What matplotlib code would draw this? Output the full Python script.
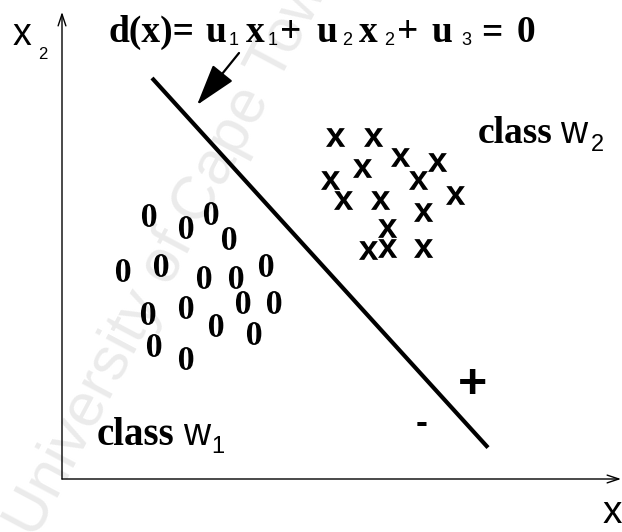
import numpy as np
import matplotlib
matplotlib.use("Agg")
import matplotlib.pyplot as plt
from matplotlib.textpath import TextPath
from matplotlib.font_manager import FontProperties
from matplotlib.path import Path
from matplotlib.patches import FancyArrowPatch, ArrowStyle

# ---- data (feature space x1, x2) ----
class1_x1 = [8.6, 12.3, 14.8, 16.6, 6.0, 9.8, 14.1, 17.3, 20.3, 18.0, 21.1, 8.5, 12.3, 15.3, 19.1, 9.1, 12.3]
class1_x2 = [26.4, 25.2, 26.6, 24.1, 20.9, 21.4, 20.2, 20.2, 21.4, 17.7, 17.7, 16.6, 17.2, 15.4, 14.6, 13.4, 12.1]
class2_x1 = [27.3, 31.1, 33.8, 37.5, 30.0, 26.8, 35.6, 28.1, 31.8, 39.3, 36.1, 32.5, 30.6, 32.5, 36.1]
class2_x2 = [34.2, 34.2, 32.2, 31.7, 31.1, 29.9, 29.9, 27.9, 27.9, 28.4, 26.7, 25.1, 22.9, 23.1, 23.1]
# decision boundary d(x) = u1*x1 + u2*x2 + u3 = 0
u1, u2, u3 = 1.1, 1.0, -50.0
boundary_x1 = [9.0, 42.6]

SERIF_B = dict(family='Liberation Serif', weight='bold')
SANS = dict(family='Liberation Sans')

fig = plt.figure(figsize=(6.22, 5.32), dpi=100)
ax = fig.add_axes([0, 0, 1, 1])
ax.set_xlim(-6.2, 56.0)
ax.set_ylim(-5.3, 47.9)
ax.axis('off')

# watermark
ax.text(-2.6, -6.1, "University of Cape Town", rotation=62, rotation_mode='anchor',
        ha='left', va='baseline', fontsize=44, color='#ebebeb',
        family='Liberation Sans', zorder=0, clip_on=True)

def glyph_marker(ch, fp):
    tp = TextPath((0, 0), ch, prop=fp, size=1)
    v = tp.vertices.copy()
    lo, hi = v.min(0), v.max(0)
    v = v - (lo + hi) / 2
    return Path(v, tp.codes)

m_zero = glyph_marker("0", FontProperties(family='Liberation Serif', weight='bold'))
m_x = glyph_marker("x", FontProperties(family='Liberation Sans', weight='bold'))

ax.scatter(class1_x1, class1_x2, marker=m_zero, s=16.5**2, c='black', linewidths=0, zorder=3)
ax.scatter(class2_x1, class2_x2, marker=m_x, s=14.0**2, c='black', linewidths=0, zorder=3)

# decision line
bx = np.array(boundary_x1)
by = -(u1 * bx + u3) / u2
ax.plot(bx, by, color='black', lw=3.0, solid_capstyle='butt', zorder=3)

# axes with arrows
ax.annotate("", xy=(0, 46.7), xytext=(0, 0),
            arrowprops=dict(arrowstyle='->,head_length=0.6,head_width=0.2', lw=1.0,
                            color='black', shrinkA=0, shrinkB=0, mutation_scale=14))
ax.annotate("", xy=(55.9, 0), xytext=(0, 0),
            arrowprops=dict(arrowstyle='->,head_length=0.6,head_width=0.2', lw=1.0,
                            color='black', shrinkA=0, shrinkB=0, mutation_scale=14))

# axis labels
ax.text(-4.9, 43.4, "x", fontsize=27, ha='left', va='baseline', **SANS)
ax.text(-2.4, 42.0, "2", fontsize=12, ha='left', va='baseline', **SANS)
ax.text(54.1, -4.4, "x", fontsize=28, ha='left', va='baseline', **SANS)


def chain(x0, y0, pieces):
    """Place text pieces one after another; pieces: (text, style, size, dy, gap_pt)."""
    prev = None
    for s, style, size, dy, gap in pieces:
        if prev is None:
            t = ax.text(x0, y0 + dy, s, fontsize=size, ha='left', va='baseline', **style)
        else:
            t = ax.annotate(s, xy=(1, y0 + dy), xycoords=(prev, 'data'),
                            xytext=(gap, 0), textcoords='offset points',
                            fontsize=size, ha='left', va='baseline', **style)
        prev = t


M, S = 27, 13
sub = -0.35
chain(4.6, 43.7, [
    ("d(x)=", SERIF_B, M, 0, 0),
    ("u", SERIF_B, M, 0, 8),
    ("1", SANS, S, sub, 2),
    ("x", SERIF_B, M, 0, 5),
    ("1", SANS, S, sub, 2),
    ("+", SERIF_B, M, 0, 2),
    ("u", SERIF_B, M, 0, 11),
    ("2", SANS, S, sub, 3),
    ("x", SERIF_B, M, 0, 5),
    ("2", SANS, S, sub, 5),
    ("+", SERIF_B, M, 0, 2),
    ("u", SERIF_B, M, 0, 9),
    ("3", SANS, S, sub, 7),
    ("=", SERIF_B, M, 0, 7),
    ("0", SERIF_B, M, 0, 10),
])

arr = FancyArrowPatch((17.7, 42.6), (13.5, 37.4),
                      arrowstyle=ArrowStyle('-|>', head_length=2.6, head_width=0.8),
                      mutation_scale=10, lw=1.6, color='black', shrinkA=0, shrinkB=0)
ax.add_patch(arr)

# class labels
chain(41.6, 33.6, [("class", SERIF_B, 27, 0, 0), ("w", SANS, 27, 0, 5), ("2", SANS, 17, -0.8, 3)])
chain(3.5, 3.4, [("class", SERIF_B, 28, 0, 0), ("w", SANS, 27, 0, 6), ("1", SANS, 17, -0.8, 1)])

# sign labels
ax.text(41.1, 9.4, "+", fontsize=36, ha='center', va='center', family='Liberation Sans', weight='bold')
ax.text(36.0, 5.6, "-", fontsize=26, ha='center', va='center', family='Liberation Sans', weight='bold')

fig.savefig("out.png", dpi=100, facecolor='white')
